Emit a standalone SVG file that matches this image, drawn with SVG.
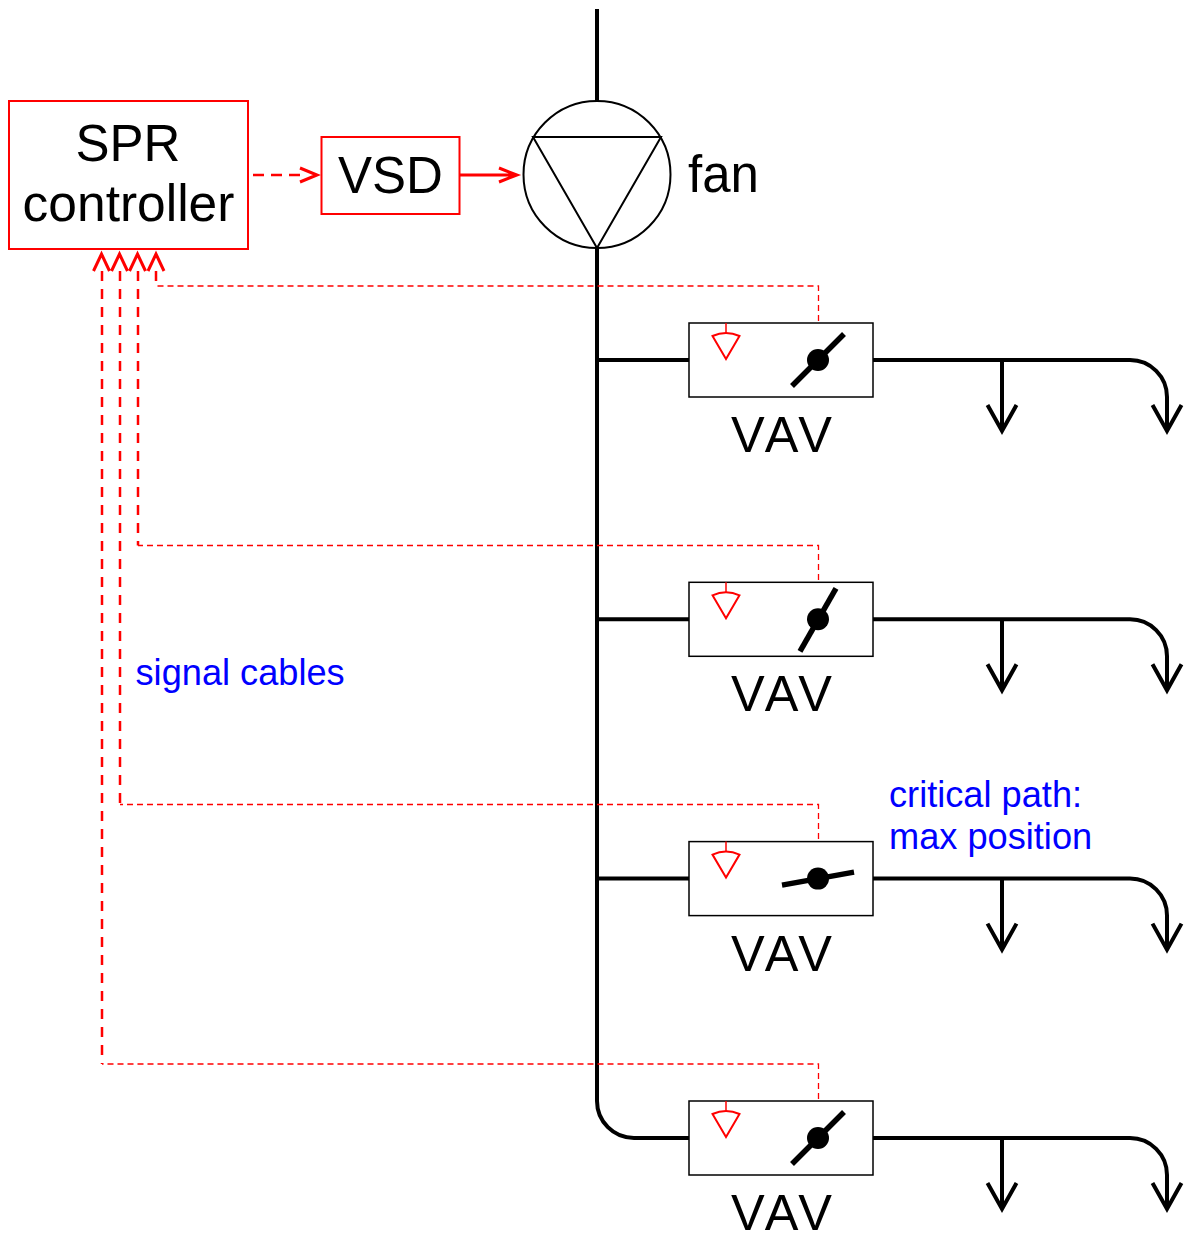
<svg xmlns="http://www.w3.org/2000/svg" xmlns:xlink="http://www.w3.org/1999/xlink" width="1191" height="1235" viewBox="0 0 1191 1235">
<style>
text{font-family:"Liberation Sans",Arial,sans-serif;fill:#000;font-kerning:none}
.big{font-size:51px;text-anchor:middle}
.vavt{font-size:50.500px;text-anchor:middle}
.blue{font-size:36.200px;fill:#00f}
.duct{fill:none;stroke:#000;stroke-width:4}
.thin{fill:#fff;stroke:#000;stroke-width:1.5}
.red{fill:#fff;stroke:#f00;stroke-width:2}
.sig{fill:none;stroke:#f00;stroke-width:1.3;stroke-dasharray:6 4}
.sigb{fill:none;stroke:#f00;stroke-width:2.5;stroke-dasharray:10 8}
.sigh{fill:none;stroke:#f00;stroke-width:2.5;stroke-dasharray:11 7}
.arr{fill:none;stroke:#f00;stroke-width:3}
.blade{stroke:#000;stroke-width:5.500;fill:none}
</style>
<defs>
<g id="box"><rect class="thin" x="689" y="-37" width="184" height="74"/><path d="M726-37V-27" fill="none" stroke="#f00" stroke-width="1.5"/><path d="M726-1L712.500-24Q726-30 739.500-24Z" fill="#fff" stroke="#f00" stroke-width="2"/></g>
<g id="outlet"><path class="duct" d="M873 0H1130A37 37 0 0 1 1167 37V70M1002 0V70"/><path class="duct" d="M987.500 45L1002 71L1016.500 45M1152.500 45L1167 71L1181.500 45"/></g>
</defs>
<g id="connectors">
<path class="duct" d="M597 9V101M597 248V1101A37 37 0 0 0 634 1138H689M597 360H689M597 619.300H689M597 878.600H689"/>
<path class="sig" d="M818.500 321V286H156M818.500 580V545.500H138M818.500 839V804.500H120M818.500 1099V1064H102"/>
<path class="sigb" d="M156 271V286M138 271V545.500M120 271V804.500M102 271V1064"/>
<path class="arr" d="M93.500 271L101.500 254L109.500 271M111.500 271L119.500 254L127.500 271M129.500 271L137.500 254L145.500 271M148 271L156 254L164 271"/>
<path class="sigh" d="M253 175H305"/>
<path class="arr" d="M300 168L317 175L300 182"/>
<path class="arr" d="M460 175H516M499 168L517 175L499 182"/>
</g>
<g id="controller"><rect class="red" x="9" y="101" width="239" height="148"/><text class="big" x="128" y="160.500">SPR</text><text class="big" x="128.500" y="220.500" style="font-size:51.500px">controller</text></g>
<g id="vsd"><rect class="red" x="321.500" y="137" width="138" height="77"/><text class="big" x="390.500" y="192.500">VSD</text></g>
<g id="fan"><circle cx="597" cy="174.500" r="73.500" fill="#fff" stroke="#000" stroke-width="2"/><path d="M533 137H661L597 248Z" fill="none" stroke="#000" stroke-width="2"/><text class="big" x="688" y="191.500" style="text-anchor:start">fan</text></g>
<g id="vav1" transform="translate(0 360)"><use xlink:href="#outlet"/><use xlink:href="#box"/><path class="blade" d="M792 26L844-26"/><circle cx="818" cy="0" r="11"/><text class="vavt" x="781.500" y="92">VAV</text></g>
<g id="vav2" transform="translate(0 619.300)"><use xlink:href="#outlet"/><use xlink:href="#box"/><path class="blade" d="M800 32L836-31"/><circle cx="818" cy="0" r="11"/><text class="vavt" x="781.500" y="92">VAV</text></g>
<g id="vav3" transform="translate(0 878.600)"><use xlink:href="#outlet"/><use xlink:href="#box"/><path class="blade" d="M782 6.500L854-6.500"/><circle cx="818" cy="0" r="11"/><text class="vavt" x="781.500" y="92">VAV</text></g>
<g id="vav4" transform="translate(0 1138)"><use xlink:href="#outlet"/><use xlink:href="#box"/><path class="blade" d="M792 26L844-26"/><circle cx="818" cy="0" r="11"/><text class="vavt" x="781.500" y="92">VAV</text></g>
<text class="blue" x="135.500" y="685">signal cables</text>
<text class="blue" x="889" y="807">critical path:</text>
<text class="blue" x="889" y="849">max position</text>
</svg>
